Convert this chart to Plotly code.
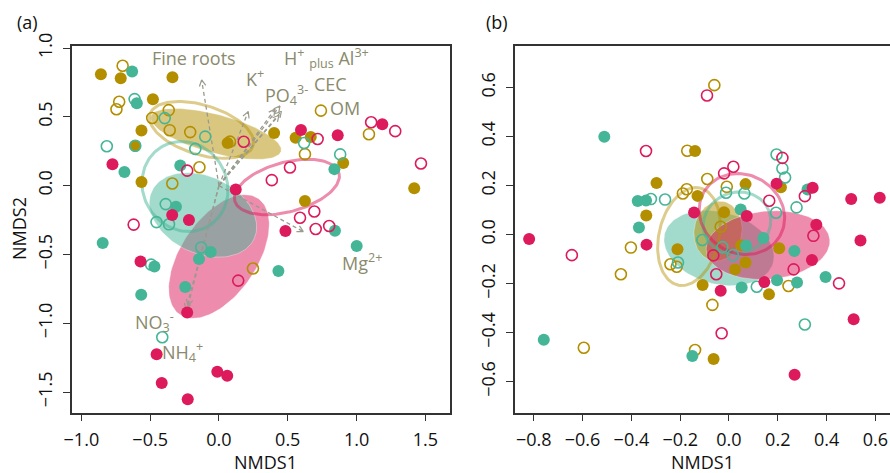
import numpy as np
import plotly.graph_objects as go

# ---------------- Panel (a) data ----------------
a_gold_fill_x = [-0.858, -0.714, -0.338, -0.480, -0.563, -0.610, -0.563, 0.063, 0.401, 0.557, 0.667, 0.903, 0.625, 1.419]
a_gold_fill_y = [0.810, 0.781, 0.788, 0.628, 0.401, 0.289, 0.027, 0.310, 0.383, 0.348, 0.354, 0.165, -0.111, -0.019]
a_gold_open_x = [-0.700, -0.725, -0.745, -0.485, -0.365, -0.358, -0.209, -0.142, -0.339, 0.080, 0.625, 0.741, 1.090, 0.247]
a_gold_open_y = [0.871, 0.610, 0.555, 0.492, 0.549, 0.403, 0.389, 0.134, 0.016, 0.320, 0.229, 0.545, 0.374, -0.602]
a_teal_fill_x = [-0.631, -0.597, -0.687, -0.281, -0.3125, 0.839, 0.843, -0.845, -0.469, -0.565, -0.245, -0.145, -0.060, 0.432, 1.001]
a_teal_fill_y = [0.830, 0.599, 0.100, 0.147, -0.153, 0.120, -0.328, -0.416, -0.587, -0.793, -0.736, -0.533, -0.482, -0.620, -0.438]
a_teal_open_x = [-0.815, -0.613, -0.608, -0.394, -0.100, -0.172, 0.619, 0.881, -0.387, -0.454, -0.363, -0.493, -0.129, -0.412]
a_teal_open_y = [0.286, 0.629, 0.290, 0.491, 0.356, 0.267, 0.310, 0.227, -0.134, -0.265, -0.281, -0.574, -0.449, -1.102]
a_mag_fill_x = [-0.774, 0.122, 0.596, 0.863, 1.187, -0.340, -0.218, 0.483, -0.570, -0.231, -0.453, -0.416, -0.227, -0.012, 0.060]
a_mag_fill_y = [0.156, -0.028, 0.405, 0.367, 0.447, -0.213, -0.249, -0.329, -0.551, -0.922, -1.225, -1.434, -1.552, -1.352, -1.381]
a_mag_open_x = [0.180, -0.231, 0.516, 0.384, 0.717, 1.106, 1.281, 1.468, -0.620, 0.693, 0.589, 0.703, 0.801, 0.140]
a_mag_open_y = [0.319, 0.109, 0.132, 0.040, 0.339, 0.461, 0.396, 0.161, -0.283, -0.1875, -0.233, -0.315, -0.293, -0.690]

# envfit vectors (panel a)
vec_names = ["Fine roots", "K+", "PO4", "H+ plus Al3+", "CEC", "OM", "Mg2+", "NO3-", "NH4+"]
vec_x = [-0.126, 0.213, 0.407, 0.443, 0.454, 0.436, 0.613, -0.240, -0.225]
vec_y = [0.768, 0.538, 0.556, 0.579, 0.541, 0.512, -0.334, -0.901, -0.872]
vec_labels = ["Fine roots", "K<sup>+</sup>", "PO<sub>4</sub><sup>3-</sup>",
              "H<sup>+</sup> <sub>plus</sub> Al<sup>3+</sup>", "CEC", "OM",
              "Mg<sup>2+</sup>", "NO<sub>3</sub><sup>-</sup>", "NH<sub>4</sub><sup>+</sup>"]
lab_x = [-0.18, 0.262, 0.494, 0.778, 0.807, 0.916, 1.04, -0.465, -0.262]
lab_y = [0.928, 0.78, 0.659, 0.925, 0.738, 0.5625, -0.552, -0.988, -1.206]

# group ellipses (cx, cy, a, b, angle deg)
a_ell_fill = {"mag": (0.0, -0.515, 0.509, 0.276, 56),
              "teal": (-0.116, -0.213, 0.41, 0.28, -25),
              "gold": (-0.022, 0.376, 0.49, 0.14, -15)}
a_ell_line = {"gold": (-0.127, 0.405, 0.392, 0.18, -17),
              "teal": (-0.247, -0.006, 0.334, 0.305, -60),
              "mag": (0.494, -0.01, 0.392, 0.18, 15)}

# ---------------- Panel (b) data ----------------
b_teal_fill_x = [-0.511, -0.374, -0.340, -0.369, 0.048, 0.322, 0.141, 0.070, 0.268, 0.396, 0.279, 0.197, 0.052, -0.759, -0.150]
b_teal_fill_y = [0.399, 0.137, 0.139, 0.029, 0.102, 0.184, -0.014, -0.045, -0.067, -0.173, -0.196, -0.186, -0.216, -0.429, -0.496]
b_teal_open_x = [-0.320, -0.262, -0.012, 0.063, 0.195, 0.219, 0.230, 0.193, 0.277, -0.209, -0.109, -0.027, 0.016, 0.114, 0.311]
b_teal_open_y = [0.145, 0.143, 0.171, 0.168, 0.327, 0.270, 0.233, 0.089, 0.111, -0.114, -0.022, -0.051, -0.084, -0.213, -0.367]
b_gold_fill_x = [-0.139, -0.297, -0.129, -0.339, -0.020, 0.068, 0.213, -0.211, 0.050, 0.206, 0.068, 0.025, -0.108, 0.164, -0.063]
b_gold_fill_y = [0.341, 0.211, 0.158, 0.078, 0.091, 0.206, 0.193, -0.060, -0.044, -0.056, -0.114, -0.142, -0.206, -0.244, -0.508]
b_gold_open_x = [-0.060, -0.171, -0.089, -0.189, -0.173, -0.009, -0.034, -0.402, -0.443, -0.240, -0.214, 0.244, -0.068, -0.139, -0.595]
b_gold_open_y = [0.610, 0.342, 0.227, 0.168, 0.185, 0.195, 0.032, -0.053, -0.162, -0.121, -0.131, -0.210, -0.287, -0.471, -0.462]
b_mag_fill_x = [-0.143, 0.073, 0.195, 0.343, 0.358, 0.501, 0.618, -0.819, 0.539, 0.340, 0.145, -0.034, 0.511, 0.269, -0.338]
b_mag_fill_y = [0.090, 0.076, 0.208, 0.191, 0.040, 0.145, 0.150, -0.018, -0.024, -0.104, -0.194, -0.229, -0.346, -0.572, -0.041]
b_mag_open_x = [-0.090, -0.340, -0.020, 0.018, 0.165, 0.219, 0.311, 0.346, -0.644, -0.064, -0.052, 0.265, 0.451, -0.030]
b_mag_open_y = [0.568, 0.341, 0.250, 0.277, 0.138, 0.313, 0.157, -0.005, -0.084, -0.085, -0.162, -0.142, -0.199, -0.403]

b_ell_fill = {"teal": (-0.041, -0.055, 0.23, 0.147, -15),
              "gold": (-0.045, 0.014, 0.123, 0.098, 80),
              "mag": (0.16, -0.043, 0.254, 0.139, 5)}
b_ell_line = {"gold": (-0.164, -0.008, 0.203, 0.123, 77),
              "teal": (0.033, 0.047, 0.14, 0.125, 20),
              "mag": (0.053, 0.084, 0.18, 0.16, -30)}

# ---------------- styles ----------------
COL = {"gold": "#B38F00", "teal": "#45B597", "mag": "#DC1A5C"}
FILL = {"gold": "rgba(179,143,0,0.5)", "teal": "rgba(69,181,151,0.5)", "mag": "rgba(220,26,92,0.5)"}
LINE = {"gold": "rgba(179,143,0,0.45)", "teal": "rgba(69,181,151,0.5)", "mag": "rgba(220,26,92,0.5)"}
LABCOL = "#8A8A6C"
ARROWCOL = "#9A9A8E"
FONT = "Open Sans"


def ellipse(p, n=120):
    cx, cy, a, b, ang = p
    t = np.linspace(0, 2 * np.pi, n)
    th = np.deg2rad(ang)
    x = cx + a * np.cos(t) * np.cos(th) - b * np.sin(t) * np.sin(th)
    y = cy + a * np.cos(t) * np.sin(th) + b * np.sin(t) * np.cos(th)
    return x, y


fig = go.Figure()


def add_fill(p, key, xa, ya):
    x, y = ellipse(p)
    fig.add_trace(go.Scatter(x=x, y=y, mode="lines", fill="toself", fillcolor=FILL[key],
                             line=dict(color="rgba(255,255,255,0.35)", width=1),
                             xaxis=xa, yaxis=ya, hoverinfo="skip", showlegend=False))


def add_line(p, key, xa, ya):
    x, y = ellipse(p)
    fig.add_trace(go.Scatter(x=x, y=y, mode="lines", line=dict(color=LINE[key], width=3),
                             xaxis=xa, yaxis=ya, hoverinfo="skip", showlegend=False))


def add_pts(x, y, key, filled, xa, ya):
    if filled:
        m = dict(color=COL[key], size=12, symbol="circle", line=dict(width=0))
    else:
        m = dict(color=COL[key], size=11, symbol="circle-open", line=dict(width=1.6, color=COL[key]))
    fig.add_trace(go.Scatter(x=x, y=y, mode="markers", marker=m, xaxis=xa, yaxis=ya,
                             showlegend=False))


# Panel (a)
for k in ["mag", "teal", "gold"]:
    add_fill(a_ell_fill[k], k, "x", "y")
for k in ["gold", "teal", "mag"]:
    add_line(a_ell_line[k], k, "x", "y")

# arrows
for vx, vy in zip(vec_x, vec_y):
    fig.add_trace(go.Scatter(x=[0, vx], y=[0, vy], mode="lines",
                             line=dict(color=ARROWCOL, width=1.3, dash="4px,3px"),
                             xaxis="x", yaxis="y", hoverinfo="skip", showlegend=False))
    L = np.hypot(vx, vy)
    ux, uy = vx / L, vy / L
    hl = 0.05
    hx, hy = [], []
    for s in (1, -1):
        ang = np.deg2rad(28) * s
        rx = ux * np.cos(ang) - uy * np.sin(ang)
        ry = ux * np.sin(ang) + uy * np.cos(ang)
        hx += [vx - hl * rx, vx, None]
        hy += [vy - hl * ry, vy, None]
    fig.add_trace(go.Scatter(x=hx, y=hy, mode="lines", line=dict(color=ARROWCOL, width=1.2),
                             xaxis="x", yaxis="y", hoverinfo="skip", showlegend=False))

add_pts(a_gold_fill_x, a_gold_fill_y, "gold", True, "x", "y")
add_pts(a_gold_open_x, a_gold_open_y, "gold", False, "x", "y")
add_pts(a_teal_fill_x, a_teal_fill_y, "teal", True, "x", "y")
add_pts(a_teal_open_x, a_teal_open_y, "teal", False, "x", "y")
add_pts(a_mag_fill_x, a_mag_fill_y, "mag", True, "x", "y")
add_pts(a_mag_open_x, a_mag_open_y, "mag", False, "x", "y")

# Panel (b)
for k in ["teal", "gold", "mag"]:
    add_fill(b_ell_fill[k], k, "x2", "y2")
for k in ["gold", "teal", "mag"]:
    add_line(b_ell_line[k], k, "x2", "y2")
add_pts(b_gold_fill_x, b_gold_fill_y, "gold", True, "x2", "y2")
add_pts(b_gold_open_x, b_gold_open_y, "gold", False, "x2", "y2")
add_pts(b_teal_fill_x, b_teal_fill_y, "teal", True, "x2", "y2")
add_pts(b_teal_open_x, b_teal_open_y, "teal", False, "x2", "y2")
add_pts(b_mag_fill_x, b_mag_fill_y, "mag", True, "x2", "y2")
add_pts(b_mag_open_x, b_mag_open_y, "mag", False, "x2", "y2")

W, H = 890, 473
annotations = []
for lx, ly, t in zip(lab_x, lab_y, vec_labels):
    annotations.append(dict(x=lx, y=ly, xref="x", yref="y", text=t, showarrow=False,
                            font=dict(family=FONT, size=18, color=LABCOL)))
for px, py, t in [(27, 22, "(a)"), (497, 22, "(b)")]:
    annotations.append(dict(x=px / W, y=1 - py / H, xref="paper", yref="paper", text=t,
                            showarrow=False, xanchor="center", yanchor="middle",
                            font=dict(family=FONT, size=18, color="#111")))
# axis titles as paper annotations
annotations.append(dict(x=265 / W, y=1 - 462 / H, xref="paper", yref="paper", text="NMDS1",
                        showarrow=False, xanchor="center", yanchor="middle",
                        font=dict(family=FONT, size=18, color="#111")))
annotations.append(dict(x=702 / W, y=1 - 462 / H, xref="paper", yref="paper", text="NMDS1",
                        showarrow=False, xanchor="center", yanchor="middle",
                        font=dict(family=FONT, size=18, color="#111")))
annotations.append(dict(x=19 / W, y=1 - 229 / H, xref="paper", yref="paper", text="NMDS2",
                        showarrow=False, xanchor="center", yanchor="middle", textangle=-90,
                        font=dict(family=FONT, size=18, color="#111")))

axis_common = dict(showgrid=False, zeroline=False, showline=True, linecolor="#333",
                   linewidth=1.5, ticks="outside", ticklen=7, tickwidth=1.3, tickcolor="#333",
                   tickfont=dict(family=FONT, size=18, color="#111"), tickformat=".1f",
                   automargin=False)

fig.update_layout(
    width=W, height=H, margin=dict(l=0, r=0, t=0, b=0, autoexpand=False),
    paper_bgcolor="white", plot_bgcolor="white",
    font=dict(family=FONT),
    xaxis=dict(domain=[72 / W, 450 / W], range=[-1.068, 1.679], tickvals=[-1.0, -0.5, 0, 0.5, 1.0, 1.5],
               mirror=True, anchor="y", ticklabelstandoff=3, **axis_common),
    yaxis=dict(domain=[1 - 412.7 / H, 1 - 45.7 / H], range=[-1.65, 1.017],
               tickvals=[-1.5, -1.0, -0.5, 0, 0.5, 1.0], mirror=True, anchor="x", tickangle=-90,
               ticklabelstandoff=4, **axis_common),
    xaxis2=dict(domain=[515 / W, 1.0], range=[-0.877, 0.66],
                tickvals=[-0.8, -0.6, -0.4, -0.2, 0, 0.2, 0.4, 0.6], mirror=True, anchor="y2",
                ticklabelstandoff=3, **axis_common),
    yaxis2=dict(domain=[1 - 412.7 / H, 1 - 45.7 / H], range=[-0.727, 0.771],
                tickvals=[-0.6, -0.4, -0.2, 0, 0.2, 0.4, 0.6], mirror=False, anchor="x2",
                tickangle=-90, ticklabelstandoff=4, **axis_common),
    annotations=annotations,
)

fig.write_html("out.html")
